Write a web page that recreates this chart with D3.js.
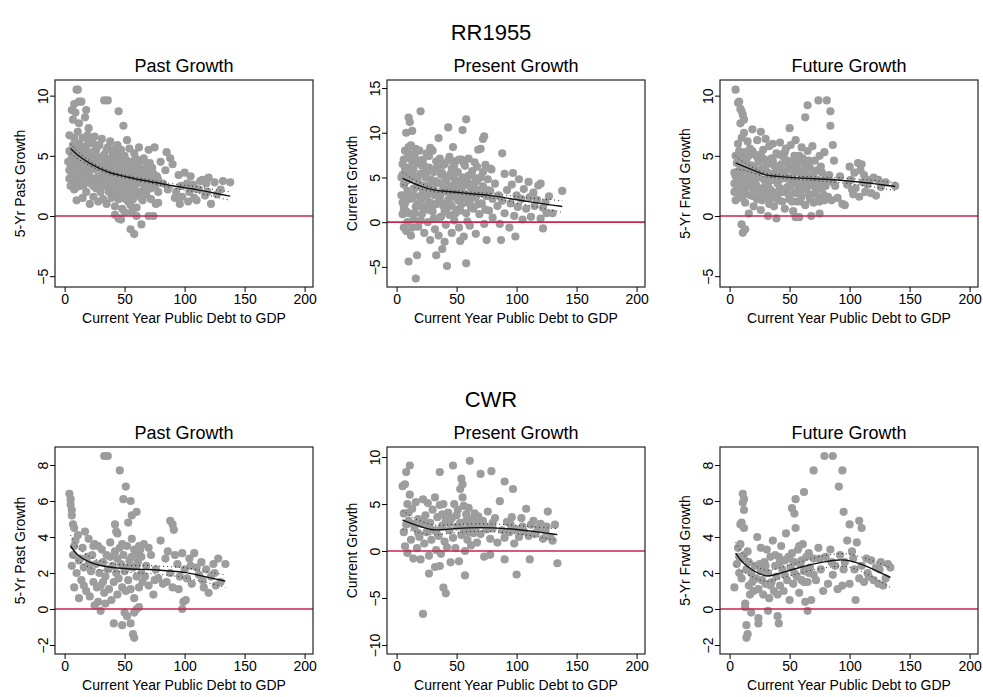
<!DOCTYPE html>
<html><head><meta charset="utf-8">
<script src="https://cdn.jsdelivr.net/npm/d3@7"></script>
<style>body{margin:0;background:#fff}text{font-family:"Liberation Sans",Arial,sans-serif}</style>
</head><body>
<svg id="chart" width="983" height="697"></svg>
<script>
// ---- data: [debt to GDP, growth] pairs ----
var rrPast = [[10,10.5],[11,10.5],[8,9.3],[12,9.5],[14,9.5],[6,8.8],[9,8.6],[33,9.6],[36,9.6],[45,8.7],[49,7.5],[7,8.0],[17,8.2],[18,8.8],[12,7.7],[20,7.3],[52,6.3],[25,6.6],
[55,-1.1],[58,-1.5],[64,-0.7],[45,-0.2],[47,-0.3],[42,0.1],[60,0],[70,0],[74,0],[50,0.3],[56,0.3],
[85,5.3],[88,4.8],[90,4.3],[95,3.4],[100,3.6],[97,2.5],[102,2.7],[104,2.0],[107,2.6],[110,1.3],[112,2.2],[115,3.0],[118,2.7],[120,3.2],[122,1.0],[125,2.8],[130,2.2],[132,2.9],[138,2.8],[108,1.5],[103,1.2],[98,1.6],[93,2.0],[92,1.5],[86,2.2],[84,3.8],[80,4.5],[78,1.1],[82,2.7],[96,1.0],[113,2.9],[117,1.7],[105,3.3],[109,2.3],[127,1.8],[119,2.0],
[4,6.7],[4,5.4],[5,4.6],[5,4.0],[6,3.5],[5,2.5],[7,5.9],[8,6.5],[8,4.9],[9,4.2],[9,3.0],[10,1.3],[10,5.5],[11,7.0],[12,6.0],[12,4.3],[13,2.5],[14,5.2],[14,3.8],[15,6.5],[15,1.5],[16,4.7],[17,3.2],[18,5.8],[18,2.0],[19,4.1],[20,6.2],[20,3.5],[21,1.0],[22,5.0],[22,2.7],[23,4.4],[24,6.0],[24,1.6],[25,3.9],[26,5.4],[26,2.3],[27,4.8],[28,1.2],[28,3.3],[29,5.9],[30,4.2],[30,2.0],[31,6.4],[32,3.6],[32,1.4],[33,5.1],[34,2.8],[35,4.5],[35,1.0],[36,5.7],[36,3.1],[37,2.0],[38,4.0],[38,6.2],[39,1.5],[40,3.4],[40,5.3],[41,2.5],[42,4.8],[42,0.8],[43,3.7],[44,5.9],[44,2.1],[45,1.4],[46,4.3],[46,3.0],[47,5.5],[48,2.4],[48,0.6],[49,3.9],[50,5.0],[50,1.8],[51,2.9],[52,4.6],[53,1.2],[53,3.5],[54,5.6],[55,2.2],[55,0.9],[56,4.0],[57,3.1],[58,5.2],[58,1.6],[59,2.6],[60,4.4],[60,0.7],[61,3.3],[62,5.7],[63,2.0],[64,3.9],[65,1.3],[66,4.8],[66,2.6],[67,3.4],[68,1.8],[69,4.2],[70,5.5],[70,2.3],[71,3.0],[72,1.4],[73,4.0],[74,2.6],[75,5.7],[76,1.0],[77,3.3],[78,2.0],
[3,4.5],[4,3.8],[6,5.1],[7,3.2],[7,4.4],[8,2.2],[9,5.6],[11,3.6],[11,4.8],[13,5.6],[13,3.4],[16,2.6],[17,5.5],[19,6.7],[21,4.6],[23,3.0],[25,5.1],[27,2.8],[29,4.0],[31,3.0],[34,4.1],[37,4.7],[39,3.8],[41,4.2],[43,2.9],[45,3.6],[47,4.1],[49,2.3],[51,3.8],[54,2.8],[57,4.5],[59,3.6],[61,2.0],[63,4.6],[65,3.2],[67,2.2],[69,3.5],[71,4.4],[73,2.9],
[4,3.1],[6,4.3],[8,3.7],[10,4.5],[10,2.4],[12,3.1],[14,4.4],[15,2.9],[16,3.7],[18,3.0],[19,5.0],[21,3.3],[22,4.0],[23,5.3],[24,2.5],[25,4.5],[26,3.1],[27,5.7],[28,4.2],[29,2.4],[30,3.3],[31,4.9],[32,2.5],[33,4.3],[34,3.5],[35,5.5],[36,2.4],[37,3.8],[38,2.8],[39,4.8],[40,2.2],[41,3.3],[42,5.6],[43,1.8],[44,4.5],[45,2.6],[46,5.1],[47,1.6],[48,3.4],[49,4.8],[50,2.7],[51,1.4],[52,3.3],[53,4.3],[54,1.8],[55,3.8],[56,2.6],[57,1.4],[58,3.8],[59,4.8],[60,2.0],[61,4.1],[62,2.8],[63,3.3],[64,1.5],[65,4.6],[66,3.6],[68,2.7],[70,3.9],[72,2.3],[74,3.5],[76,2.6],[78,3.0]];

var rrPresent = [[20,12.4],[10,11.7],[11,11.2],[58,11.5],[43,10.6],[55,10.3],[8,10.0],[13,10.2],[35,9.4],[73,9.6],[72,9.3],[68,8.1],[70,8.2],[28,8.3],[47,8.4],[88,7.7],[97,5.5],[120,4.3],[138,3.5],[16,-6.3],[17,-3.7],[10,-4.4],[42,-4.9],[58,-4.6],[33,-3.7],[38,-3],[40,-2.2],[53,-2.1],[87,-2.0],[99,-1.6],[75,-2],[122,-0.7],
[4,3.0],[5,6.5],[5,0.9],[6,-0.6],[6,4.2],[7,8.0],[7,2.1],[8,5.5],[8,-1.0],[9,7.2],[9,3.5],[10,1.0],[10,6.1],[11,4.8],[12,-1.5],[12,8.6],[13,2.7],[14,5.9],[14,0.3],[15,7.5],[15,3.8],[16,1.7],[17,6.6],[18,-0.5],[18,4.4],[19,8.0],[20,2.5],[20,5.4],[21,0.9],[22,7.0],[22,3.3],[23,-1.2],[24,5.0],[24,1.8],[25,7.7],[26,3.9],[26,0.0],[27,6.1],[28,2.2],[28,-2.0],[29,4.7],[30,8.0],[30,1.2],[31,5.6],[32,3.0],[32,-0.8],[33,6.8],[34,2.1],[35,4.4],[35,-1.5],[36,7.1],[37,3.2],[37,0.6],[38,5.5],[39,1.8],[40,6.5],[40,3.7],[41,-0.3],[42,5.0],[43,2.5],[44,7.3],[44,0.8],[45,4.1],[46,-1.2],[46,6.0],[47,2.9],[48,4.9],[48,0.2],[49,6.8],[50,3.3],[51,1.4],[51,5.6],[52,-0.6],[53,3.9],[54,7.0],[54,2.0],[55,5.0],[56,-1.6],[56,3.2],[57,6.3],[58,1.0],[59,4.5],[60,2.6],[60,7.1],[61,-0.4],[62,3.8],[63,5.7],[64,1.5],[65,4.4],[66,-1.3],[66,2.8],[67,6.2],[68,3.6],[69,0.9],[70,5.0],[71,2.1],[72,4.0],[73,-0.2],[74,6.4],[75,2.9],[76,4.8],[77,1.3],[78,3.5],[79,5.9],[80,0.5],
[4,5],[5,2.2],[6,7.0],[7,4.5],[8,3.0],[9,0.0],[10,8.4],[11,2.6],[13,6.8],[15,1.0],[17,4.9],[19,2.9],[21,6.3],[23,4.1],[25,2.7],[27,4.0],[29,1.7],[31,3.6],[33,4.4],[36,2.8],[39,3.9],[42,1.6],[45,3.0],[49,3.7],[52,2.4],[55,4.0],[58,3.0],[61,2.3],[64,3.9],[67,4.6],[71,3.2],
[82,4.3],[84,1.8],[85,3.0],[86,-0.2],[88,2.4],[90,1.0],[90,5.4],[92,3.6],[94,-0.6],[95,2.1],[96,4.2],[98,0.7],[100,3.0],[101,1.7],[102,4.8],[104,2.6],[105,0.3],[106,3.7],[108,1.5],[110,4.5],[111,2.8],[112,0.6],[114,3.3],[115,1.8],[117,2.5],[118,4.1],[120,0.4],[122,1.6],[124,2.2],[125,1.0],[130,1.0],[127,2.9],
[5,5.3],[6,1.6],[7,6.0],[8,1.2],[9,4.7],[10,2.8],[11,7.6],[12,5.2],[13,-0.6],[14,3.0],[15,5.1],[16,8.2],[17,2.0],[18,6.9],[19,4.0],[20,0.2],[21,3.9],[22,1.6],[23,6.3],[24,3.3],[25,5.6],[26,1.4],[27,7.4],[28,4.8],[29,3.2],[30,5.9],[31,0.4],[32,4.6],[33,2.0],[34,6.1],[35,3.0],[36,0.5],[37,5.3],[38,2.1],[39,6.4],[40,1.2],[41,4.7],[42,3.4],[43,6.9],[44,2.3],[45,5.4],[46,1.8],[47,4.0],[48,6.3],[49,1.0],[50,4.6],[51,2.5],[52,7.0],[53,1.3],[54,4.4],[55,2.6],[56,6.6],[57,2.2],[58,4.2],[59,0.1],[60,5.2],[62,1.7],[63,3.0],[65,6.7],[66,4.9],[68,2.0],[70,3.3],[72,5.6],[74,1.4],[76,3.6],[78,6.0],[80,2.6]];

var rrFuture = [[5,10.5],[7,9.4],[8,9.5],[9,8.9],[10,8.7],[11,8.4],[12,8.0],[9,7.7],[65,9.2],[74,9.6],[81,9.6],[84,8.7],[84,7.5],[86,5.9],[87,4.6],[63,8.2],[50,7.3],[10,-0.7],[11,-1.4],[13,-1.1],[39,-0.2],[32,0],[55,-0.1],[58,-0.1],[68,0],[75,0.2],
[88,2.5],[90,1.5],[92,3.3],[94,1.0],[96,0.9],[98,2.6],[100,4.1],[101,3.0],[103,1.8],[104,3.6],[105,2.3],[107,4.4],[108,1.6],[110,4.3],[111,2.8],[112,3.4],[113,2.0],[115,2.6],[117,3.0],[118,1.9],[120,3.2],[122,1.7],[124,3.0],[126,2.4],[130,2.8],[138,2.5],[109,3.8],[102,2.2],
[4,2.0],[4,3.6],[5,5.0],[5,1.3],[6,2.8],[6,4.4],[7,6.0],[7,1.8],[8,3.5],[8,5.4],[9,2.4],[9,4.1],[10,6.5],[10,1.5],[11,3.0],[11,5.0],[12,2.0],[12,6.9],[13,3.8],[13,1.1],[14,4.7],[15,2.5],[15,6.2],[16,0.2],[16,3.4],[17,5.6],[18,1.7],[18,4.2],[19,7.2],[20,2.9],[20,0.8],[21,5.1],[22,3.6],[23,1.4],[23,6.3],[24,4.5],[25,2.2],[26,7.0],[26,0.5],[27,3.9],[28,5.5],[29,1.9],[29,3.0],[30,6.4],[31,4.3],[32,2.5],[33,1.0],[33,5.8],[34,3.4],[35,4.8],[36,2.0],[36,6.0],[37,0.8],[38,3.6],[39,5.2],[40,2.7],[41,4.1],[41,1.3],[42,6.1],[43,3.1],[44,2.0],[45,4.9],[46,0.6],[46,3.7],[47,5.6],[48,2.4],[49,4.2],[50,1.4],[50,3.2],[51,5.9],[52,2.8],[53,0.4],[53,4.5],[54,3.6],[55,1.9],[55,6.3],[56,4.1],[57,2.6],[58,5.0],[59,1.2],[60,3.4],[60,5.7],[61,2.2],[62,4.4],[63,0.9],[64,3.0],[65,5.4],[66,1.8],[67,4.0],[68,2.7],[69,5.8],[70,1.1],[70,3.5],[71,4.6],[72,2.2],[73,3.8],[74,1.5],[75,5.0],[76,2.9],[77,3.6],[78,1.8],[79,5.3],[80,2.5],[82,1.6],[83,3.4],[85,1.3],[86,2.8],
[5,3.3],[6,2.2],[8,4.6],[10,3.2],[12,4.6],[14,3.0],[16,5.0],[19,2.3],[21,3.9],[24,3.2],[27,2.3],[30,3.7],[34,2.2],[37,4.2],[40,3.8],[44,3.6],[48,3.1],[52,4.0],[56,2.9],[60,2.2],[64,4.1],[68,3.3],[72,3.0],[76,4.1],
[4,2.7],[6,3.6],[7,4.9],[9,3.1],[11,2.2],[12,3.9],[13,5.3],[14,1.8],[15,4.0],[17,2.9],[18,3.5],[19,5.4],[20,4.0],[21,1.6],[22,2.6],[23,4.9],[24,1.9],[25,3.7],[26,5.1],[27,1.3],[28,4.0],[29,4.7],[30,2.5],[31,1.6],[32,3.6],[33,4.4],[34,1.5],[35,3.0],[36,4.6],[37,3.0],[38,1.5],[39,4.0],[40,1.8],[41,5.1],[42,2.3],[43,4.3],[44,1.2],[45,3.3],[46,5.3],[47,2.0],[48,4.6],[49,1.8],[50,3.9],[51,2.4],[52,1.2],[53,3.0],[54,5.0],[55,2.7],[56,1.2],[57,4.5],[58,2.3],[59,3.8],[60,1.6],[61,4.8],[62,2.8],[63,3.5],[65,2.4],[66,4.6],[67,1.4],[69,2.6],[71,1.9],[73,2.8],[75,1.2],[77,2.3],[79,1.3],[81,3.1]];

var cwrPast = [[33,8.5],[35,8.5],[36,8.5],[46,7.7],[51,6.8],[49,6.1],[55,6.0],[53,4.8],[56,5.2],[60,5.4],[4,6.4],[5,6.1],[5,5.8],[6,5.5],[6,5.2],[7,4.7],[8,4.5],[88,4.9],[90,4.7],[91,4.4],[42,4.7],[43,4.3],[44,4.2],[58,-1.6],[57,-1.4],[41,-0.8],[48,-0.9],[55,-0.8],[52,-0.4],[50,-0.2],[58,-0.2],[60,0],[62,0.1],[98,0],[99,0.4],[101,0.5],[30,-0.1],[25,0.2],[34,0.3],
[6,2.4],[7,3.0],[8,1.2],[9,3.8],[10,2.0],[11,4.1],[12,0.6],[13,2.8],[14,1.6],[15,3.4],[16,2.3],[17,4.3],[18,1.0],[19,2.9],[20,3.9],[21,0.7],[22,2.1],[23,3.0],[24,1.5],[25,3.6],[26,2.5],[27,1.2],[28,3.5],[29,2.0],[30,1.3],[31,3.3],[32,2.6],[33,0.9],[34,1.8],[35,3.0],[36,2.2],[37,1.1],[38,3.7],[39,0.5],[40,2.4],[41,1.5],[42,3.2],[43,2.0],[44,0.8],[45,1.7],[46,3.4],[47,2.5],[48,1.2],[49,3.0],[50,2.1],[51,1.0],[52,3.5],[53,1.6],[54,2.7],[55,1.1],[56,3.9],[57,2.3],[58,0.6],[59,3.0],[60,1.8],[61,2.6],[62,1.2],[63,3.3],[64,2.0],[65,1.5],[66,3.6],[68,2.4],[70,1.3],[72,3.0],[74,0.8],[76,2.2],[78,1.7],[80,3.8],[82,1.4],[84,2.8],[86,3.2],[88,2.0],[90,1.2],[92,3.0],[94,2.5],[96,1.8],[98,3.1],[100,2.2],[102,1.7],[104,2.8],[106,1.4],[108,3.1],[110,2.3],[112,1.9],[114,2.6],[116,1.2],[118,2.2],[120,0.9],[122,1.8],[124,2.5],[126,1.3],[128,2.8],[130,1.5],[134,2.5],
[8,3.5],[12,2.7],[16,1.3],[20,2.5],[24,3.5],[28,0.4],[32,1.5],[38,2.9],[44,2.8],[48,3.6],[52,2.3],[56,2.9],[58,3.3],[60,2.4],[62,3.5],[64,2.9],[67,1.8],[70,3.4],[75,1.6],[85,1.5],[95,1.1],[105,2.4],[115,1.6],[125,2.0]];

var cwrPresent = [[61,9.6],[47,9.1],[11,9.1],[8,8.4],[36,8.4],[70,8.2],[79,8.5],[90,7.4],[97,6.6],[54,7.7],[55,7.1],[22,-6.7],[39,-3.9],[41,-4.5],[27,-2.4],[57,-2.6],[100,-2.5],[134,-1.3],[111,-0.9],[90,-0.9],[73,-0.6],[78,-0.4],[32,-1.7],[36,-1.6],
[5,6.9],[6,4.0],[7,0.5],[7,7.1],[8,2.8],[9,5.0],[9,-0.2],[10,3.2],[11,6.0],[12,1.2],[13,4.5],[14,-0.8],[15,2.5],[16,5.2],[17,0.3],[18,3.4],[19,1.5],[20,-0.9],[21,2.9],[22,5.5],[23,0.8],[24,3.8],[25,2.0],[26,5.1],[27,-0.5],[28,3.0],[29,1.2],[30,4.4],[31,2.2],[32,5.7],[33,0.1],[34,3.6],[35,1.6],[36,4.9],[37,-0.3],[38,2.7],[39,5.0],[40,1.0],[41,3.3],[42,0.4],[43,4.1],[44,2.2],[45,-1.2],[46,3.5],[47,1.4],[48,5.0],[49,0.3],[50,2.6],[51,4.4],[52,-1.1],[53,3.0],[54,1.7],[55,5.7],[56,2.3],[57,0.0],[58,3.9],[59,1.2],[60,4.6],[61,2.7],[62,0.6],[63,3.4],[64,1.9],[65,4.0],[66,2.5],[67,0.9],[68,3.7],[70,1.8],[72,3.2],[74,2.6],[76,4.2],[78,1.3],[80,2.4],[82,3.5],[84,0.9],[86,5.3],[88,2.2],[90,1.4],[92,3.1],[94,2.0],[96,3.6],[98,0.8],[100,2.3],[102,1.5],[104,3.5],[106,2.1],[108,4.5],[110,1.6],[112,2.8],[114,3.2],[116,1.9],[118,2.4],[120,2.9],[122,1.3],[124,2.1],[126,4.2],[128,1.5],[130,1.1],[132,2.8],
[6,2.0],[10,4.1],[14,2.9],[18,1.9],[23,3.1],[27,2.6],[33,2.2],[38,3.9],[44,3.0],[50,3.8],[53,6.6],[56,4.8],[58,3.2],[60,2.0],[62,2.5],[66,3.3],[70,2.8],[75,2.3],[80,3.0],[95,2.8],[105,2.6],[115,1.8],[125,2.6]];

var cwrFuture = [[79,8.5],[86,8.5],[94,7.7],[70,7.7],[91,6.8],[62,6.5],[55,6.1],[52,5.6],[54,5.3],[95,5.4],[11,6.4],[12,6.1],[11,5.9],[12,5.5],[9,4.7],[10,4.8],[12,4.5],[108,4.9],[110,4.5],[100,4.7],[14,-1.6],[15,-1.4],[14,-0.9],[24,-0.8],[24,-0.5],[41,-0.8],[40,-0.4],[18,-0.2],[32,-0.1],[65,-0.1],[13,0.1],[105,0.5],
[4,1.2],[6,2.5],[7,3.4],[8,2.0],[9,3.6],[10,1.7],[11,2.8],[12,3.0],[13,0.3],[14,2.2],[15,3.2],[16,1.3],[17,0.8],[18,2.0],[19,1.5],[20,1.0],[21,2.4],[22,1.7],[23,4.0],[24,1.1],[25,2.5],[26,3.4],[27,1.6],[28,0.8],[29,2.6],[30,1.4],[31,3.3],[32,2.0],[33,0.6],[34,2.9],[35,1.5],[36,3.8],[37,1.0],[38,2.4],[39,1.8],[40,0.8],[41,2.9],[42,1.3],[43,3.5],[44,2.2],[45,1.0],[46,2.7],[47,4.2],[48,1.6],[49,2.9],[50,0.5],[51,2.3],[52,3.1],[53,1.4],[54,2.6],[55,4.5],[56,1.8],[57,3.3],[58,0.9],[59,2.5],[60,1.6],[61,3.6],[62,2.1],[63,0.4],[64,2.9],[65,1.5],[66,3.1],[67,2.3],[68,0.5],[70,2.8],[72,1.6],[74,3.4],[76,2.2],[78,1.0],[80,2.9],[82,1.4],[84,3.3],[86,1.9],[88,2.4],[90,1.1],[92,3.0],[94,1.3],[96,2.6],[98,3.8],[100,1.4],[102,3.2],[104,2.2],[106,3.7],[108,1.7],[110,2.4],[112,1.5],[114,2.8],[116,1.8],[118,2.7],[120,1.6],[122,2.3],[124,1.4],[126,2.6],[128,1.3],[130,1.7],[132,2.5],[134,2.3],
[8,2.9],[16,2.6],[20,1.7],[26,2.1],[30,2.4],[34,1.3],[38,3.0],[42,2.6],[46,1.9],[50,2.8],[54,2.0],[58,3.5],[60,2.7],[62,1.5],[66,2.0],[70,1.9],[75,2.8],[85,2.6],[95,2.2],[103,2.8],[115,2.0],[125,2.2]];

// fitted curve and 95% band (x, fit, lower, upper)
var rrPastFit = [[5,5.6,5.2,6.0],[10,5.1,4.8,5.4],[20,4.4,4.2,4.6],[30,3.9,3.75,4.05],[40,3.5,3.38,3.62],[50,3.3,3.2,3.4],[60,3.05,2.93,3.17],[70,2.9,2.76,3.04],[80,2.7,2.55,2.85],[90,2.5,2.33,2.67],[100,2.35,2.15,2.55],[110,2.2,1.95,2.45],[120,2.0,1.72,2.28],[130,1.8,1.48,2.12],[138,1.65,1.3,2.0]];
var rrPresentFit = [[5,4.9,4.2,5.6],[10,4.6,4.1,5.1],[20,4.0,3.7,4.3],[30,3.6,3.4,3.8],[40,3.45,3.28,3.62],[50,3.35,3.2,3.5],[60,3.2,3.03,3.37],[70,3.1,2.9,3.3],[80,2.95,2.7,3.2],[90,2.75,2.45,3.05],[100,2.5,2.15,2.85],[110,2.3,1.88,2.72],[120,2.1,1.6,2.6],[130,1.9,1.3,2.5],[138,1.75,1.1,2.4]];
var rrFutureFit = [[5,4.4,3.9,5.0],[10,4.2,3.85,4.55],[20,3.8,3.6,4.0],[30,3.35,3.2,3.5],[40,3.3,3.17,3.43],[50,3.2,3.08,3.32],[60,3.15,3.02,3.28],[70,3.1,2.95,3.25],[80,3.05,2.87,3.23],[90,3.0,2.8,3.2],[100,2.9,2.68,3.12],[110,2.8,2.55,3.05],[120,2.7,2.43,2.97],[130,2.55,2.25,2.85],[138,2.45,2.1,2.8]];
var cwrPastFit = [[5,3.5,3.0,4.1],[10,3.0,2.7,3.4],[20,2.6,2.3,2.9],[30,2.4,2.15,2.65],[40,2.3,2.1,2.5],[50,2.25,2.05,2.45],[60,2.2,2.0,2.4],[70,2.2,1.98,2.42],[80,2.15,1.92,2.38],[90,2.1,1.85,2.35],[100,2.05,1.75,2.3],[110,1.9,1.6,2.2],[120,1.75,1.45,2.05],[134,1.55,1.2,1.9]];
var cwrPresentFit = [[5,3.3,2.3,4.3],[15,2.8,2.1,3.4],[30,2.15,1.6,2.7],[40,2.3,1.85,2.75],[60,2.5,2.1,2.9],[80,2.5,2.1,2.9],[100,2.3,1.85,2.75],[120,2.0,1.5,2.5],[134,1.75,1.1,2.4]];
var cwrFutureFit = [[5,3.1,2.4,3.7],[10,2.6,2.1,3.1],[20,2.1,1.75,2.45],[31,1.75,1.45,2.05],[40,1.95,1.65,2.25],[60,2.35,2.05,2.65],[80,2.65,2.3,3.0],[92,2.75,2.4,3.1],[100,2.7,2.35,3.05],[110,2.5,2.1,2.9],[120,2.2,1.75,2.65],[134,1.75,1.2,2.3]];

var xTicks = [0, 50, 100, 150, 200];
var xLabel = "Current Year Public Debt to GDP";

var panels = [
  {row: 0, col: 0, title: "Past Growth", ylab: "5-Yr Past Growth", pts: rrPast, fit: rrPastFit, yDom: [-5.9, 11.3], yTicks: [-5, 0, 5, 10]},
  {row: 0, col: 1, title: "Present Growth", ylab: "Current Growth", pts: rrPresent, fit: rrPresentFit, yDom: [-7.25, 15.9], yTicks: [-5, 0, 5, 10, 15]},
  {row: 0, col: 2, title: "Future Growth", ylab: "5-Yr Frwd Growth", pts: rrFuture, fit: rrFutureFit, yDom: [-5.9, 11.3], yTicks: [-5, 0, 5, 10]},
  {row: 1, col: 0, title: "Past Growth", ylab: "5-Yr Past Growth", pts: cwrPast, fit: cwrPastFit, yDom: [-2.5, 9.0], yTicks: [-2, 0, 2, 4, 6, 8]},
  {row: 1, col: 1, title: "Present Growth", ylab: "Current Growth", pts: cwrPresent, fit: cwrPresentFit, yDom: [-10.96, 11.07], yTicks: [-10, -5, 0, 5, 10]},
  {row: 1, col: 2, title: "Future Growth", ylab: "5-Yr Frwd Growth", pts: cwrFuture, fit: cwrFutureFit, yDom: [-2.5, 9.0], yTicks: [-2, 0, 2, 4, 6, 8]}
];

var svg = d3.select("#chart");
var boxLeft = [55, 387, 720], boxTop = [80, 447];
var boxW = 258, boxH = 207;

svg.append("text").attr("x", 491).attr("y", 40).attr("text-anchor", "middle")
  .style("font-size", "22px").text("RR1955");
svg.append("text").attr("x", 491).attr("y", 407).attr("text-anchor", "middle")
  .style("font-size", "22px").text("CWR");

panels.forEach(function (p) {
  var g = svg.append("g").attr("transform", "translate(" + boxLeft[p.col] + "," + boxTop[p.row] + ")");
  var x = d3.scaleLinear().domain([-8, 207]).range([0, boxW]);
  var y = d3.scaleLinear().domain(p.yDom).range([boxH, 0]);

  g.append("text").attr("x", boxW / 2).attr("y", -8).attr("text-anchor", "middle")
    .style("font-size", "18px").text(p.title);

  g.selectAll("circle").data(p.pts).enter().append("circle")
    .attr("cx", function (d) { return x(d[0]); })
    .attr("cy", function (d) { return y(d[1]); })
    .attr("r", 4.1).attr("fill", "#9d9d9d");

  g.append("line").attr("x1", 0).attr("x2", boxW).attr("y1", y(0)).attr("y2", y(0))
    .attr("stroke", "#c8254f").attr("stroke-width", 1.6);

  var mk = function (i) {
    return d3.line().x(function (d) { return x(d[0]); }).y(function (d) { return y(d[i]); }).curve(d3.curveBasis);
  };
  g.append("path").datum(p.fit).attr("d", mk(2)).attr("fill", "none").attr("stroke", "#222").attr("stroke-width", 1).attr("stroke-dasharray", "1,3");
  g.append("path").datum(p.fit).attr("d", mk(3)).attr("fill", "none").attr("stroke", "#222").attr("stroke-width", 1).attr("stroke-dasharray", "1,3");
  g.append("path").datum(p.fit).attr("d", mk(1)).attr("fill", "none").attr("stroke", "#111").attr("stroke-width", 1.4);

  g.append("rect").attr("width", boxW).attr("height", boxH).attr("fill", "none").attr("stroke", "#222").attr("stroke-width", 1.2);

  var xa = g.append("g").attr("transform", "translate(0," + boxH + ")")
    .call(d3.axisBottom(x).tickValues(xTicks).tickSize(5).tickPadding(2));
  xa.select(".domain").remove();
  xa.selectAll("text").style("font-size", "14px").attr("fill", "#000");

  var ya = g.append("g").call(d3.axisLeft(y).tickValues(p.yTicks).tickSize(5).tickPadding(4));
  ya.select(".domain").remove();
  ya.selectAll("text").style("font-size", "14px").attr("fill", "#000")
    .attr("text-anchor", "middle").attr("transform", function () {
      return "translate(-12,0) rotate(-90)";
    }).attr("x", 0).attr("dy", "0.35em");

  g.append("text").attr("x", boxW / 2).attr("y", boxH + 36).attr("text-anchor", "middle")
    .style("font-size", "14px").text(xLabel);
  g.append("text").attr("transform", "translate(-30," + boxH / 2 + ") rotate(-90)")
    .attr("text-anchor", "middle").style("font-size", "14px").text(p.ylab);
});
</script>
</body></html>
